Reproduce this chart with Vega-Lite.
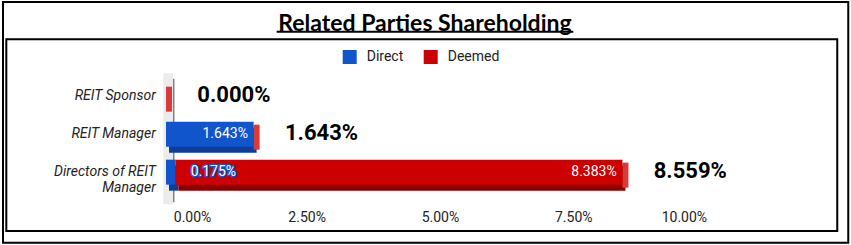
{
  "$schema": "https://vega.github.io/schema/vega-lite/v6.json",
  "autosize": {"type": "none"},
  "width": 533.3,
  "height": 123.4,
  "padding": {"left": 173.3, "top": 78.3, "right": 144.4, "bottom": 43.3},
  "background": "white",
  "title": {
    "text": "Related Parties Shareholding",
    "font": "Liberation Sans Narrow, Lato",
    "fontSize": 23,
    "fontWeight": "bold",
    "color": "black",
    "anchor": "middle",
    "baseline": "alphabetic",
    "dx": -15,
    "offset": -52.6
  },
  "config": {
    "view": {"stroke": null},
    "font": "Roboto",
    "axisX": {"ticks": false, "domain": false, "grid": true, "gridColor": "#cccccc", "labelFont": "Roboto", "labelFontSize": 14, "labelColor": "#222222", "labelPadding": 9},
    "axisY": {"ticks": false, "domain": true, "domainColor": "#333333", "grid": false, "labelFont": "Roboto", "labelFontSize": 14, "labelFontStyle": "italic", "labelColor": "#222222", "labelPadding": 18, "labelLimit": 200, "labelLineHeight": 16}
  },
  "layer": [
    {
      "data": {"values": [{}]},
      "layer": [
        {
          "mark": {"type": "rect", "fill": "#ececec"},
          "encoding": {
            "x": {"datum": -0.00188, "type": "quantitative", "scale": {"domain": [0, 0.1], "nice": false, "zero": false}, "axis": null},
            "x2": {"datum": -0.00003},
            "y": {"datum": -0.02, "type": "quantitative", "scale": {"domain": [0, 1], "nice": false, "zero": false}, "axis": null},
            "y2": {"datum": 1.04}
          }
        },
        {
          "mark": {"type": "rect", "fillOpacity": 0, "stroke": "black", "strokeWidth": 2},
          "encoding": {
            "x": {"datum": -0.031932, "type": "quantitative"},
            "x2": {"datum": 0.126563},
            "y": {"datum": -0.33225, "type": "quantitative"},
            "y2": {"datum": 1.61831}
          }
        },
        {
          "mark": {"type": "rect", "fillOpacity": 0, "stroke": "black", "strokeWidth": 2},
          "encoding": {
            "x": {"datum": -0.031313, "type": "quantitative"},
            "x2": {"datum": 0.1245},
            "y": {"datum": -0.23744, "type": "quantitative"},
            "y2": {"datum": 1.31605}
          }
        },
        {
          "mark": {"type": "rule", "stroke": "black", "strokeWidth": 2},
          "encoding": {
            "x": {"datum": 0.019388, "type": "quantitative"},
            "x2": {"datum": 0.075},
            "y": {"datum": 1.37763, "type": "quantitative"}
          }
        }
      ]
    },
    {
      "data": {
        "values": [
          {"category": "REIT Sponsor", "series": "Direct", "value": 0},
          {"category": "REIT Sponsor", "series": "Deemed", "value": 0},
          {"category": "REIT Manager", "series": "Direct", "value": 0.01643},
          {"category": "REIT Manager", "series": "Deemed", "value": 0},
          {"category": "Directors of REIT Manager", "series": "Direct", "value": 0.001753},
          {"category": "Directors of REIT Manager", "series": "Deemed", "value": 0.083834}
        ]
      },
      "transform": [
        {"stack": "value", "groupby": ["category"], "sort": [{"field": "series", "order": "descending"}], "as": ["x0", "x1"]}
      ],
      "encoding": {
        "y": {
          "field": "category",
          "type": "nominal",
          "sort": null,
          "title": null,
          "scale": {"domain": ["REIT Sponsor", "REIT Manager", "Directors of REIT Manager"], "paddingInner": 0.342, "paddingOuter": 0.295, "align": 0.24},
          "axis": {"orient": "left", "labelExpr": "datum.value == 'Directors of REIT Manager' ? ['Directors of REIT', 'Manager'] : datum.value"}
        }
      },
      "layer": [
        {
          "mark": {"type": "bar", "xOffset": -4.3, "x2Offset": -4.3, "yOffset": 6},
          "encoding": {
            "x": {"field": "x0", "type": "quantitative", "title": null, "scale": {"domain": [0, 0.1], "nice": false}, "axis": {"orient": "bottom", "values": [0, 0.025, 0.05, 0.075, 0.1], "format": ".2%"}},
            "x2": {"field": "x1"},
            "color": {"condition": {"test": "datum.series === 'Direct'", "value": "#0d3d99"}, "value": "#8b0000"}
          }
        },
        {
          "transform": [{"filter": "datum.series === 'Deemed'"}],
          "mark": {"type": "tick", "orient": "vertical", "thickness": 6, "size": 25, "xOffset": -4.3, "yOffset": 3, "color": "#db3a3a", "opacity": 1},
          "encoding": {
            "x": {"field": "x1", "type": "quantitative", "title": null}
          }
        },
        {
          "mark": {"type": "bar", "xOffset": -7.3, "x2Offset": -7.3},
          "encoding": {
            "x": {"field": "x0", "type": "quantitative", "title": null},
            "x2": {"field": "x1"},
            "color": {
              "field": "series",
              "type": "nominal",
              "scale": {"domain": ["Direct", "Deemed"], "range": ["#1155cc", "#cc0000"]},
              "legend": {"title": null, "orient": "none", "legendX": 169.4, "legendY": -28.3, "direction": "horizontal", "symbolType": "square", "symbolSize": 196, "symbolStrokeWidth": 0, "symbolOpacity": 1, "labelFont": "Roboto", "labelFontSize": 14, "labelColor": "#222222", "labelOffset": 10, "columnPadding": 20, "padding": 0}
            }
          }
        },
        {
          "transform": [{"filter": "datum.value > 0 && datum.value < 0.01"}],
          "mark": {"type": "text", "align": "left", "baseline": "middle", "dx": 8, "font": "Roboto", "fontSize": 14, "fill": "#1155cc", "stroke": "#1155cc", "strokeWidth": 2.5, "strokeJoin": "round"},
          "encoding": {
            "x": {"field": "x1", "type": "quantitative", "title": null},
            "text": {"field": "value", "type": "quantitative", "format": ".3%"}
          }
        },
        {
          "transform": [{"filter": "datum.value > 0 && datum.value < 0.01"}],
          "mark": {"type": "text", "align": "left", "baseline": "middle", "dx": 8, "font": "Roboto", "fontSize": 14, "fill": "white"},
          "encoding": {
            "x": {"field": "x1", "type": "quantitative", "title": null},
            "text": {"field": "value", "type": "quantitative", "format": ".3%"}
          }
        },
        {
          "transform": [{"filter": "datum.value >= 0.01"}],
          "mark": {"type": "text", "align": "right", "baseline": "middle", "dx": -13, "font": "Roboto", "fontSize": 14, "fill": "white"},
          "encoding": {
            "x": {"field": "x1", "type": "quantitative", "title": null},
            "text": {"field": "value", "type": "quantitative", "format": ".3%"}
          }
        },
        {
          "transform": [{"aggregate": [{"op": "sum", "field": "value", "as": "total"}], "groupby": ["category"]}],
          "mark": {"type": "text", "align": "left", "baseline": "middle", "dx": 24, "dy": -1, "font": "Roboto", "fontSize": 22, "fontWeight": "bold", "fill": "black"},
          "encoding": {
            "x": {"field": "total", "type": "quantitative", "title": null},
            "text": {"field": "total", "type": "quantitative", "format": ".3%"}
          }
        }
      ]
    }
  ],
  "resolve": {"scale": {"x": "independent", "y": "independent"}}
}
